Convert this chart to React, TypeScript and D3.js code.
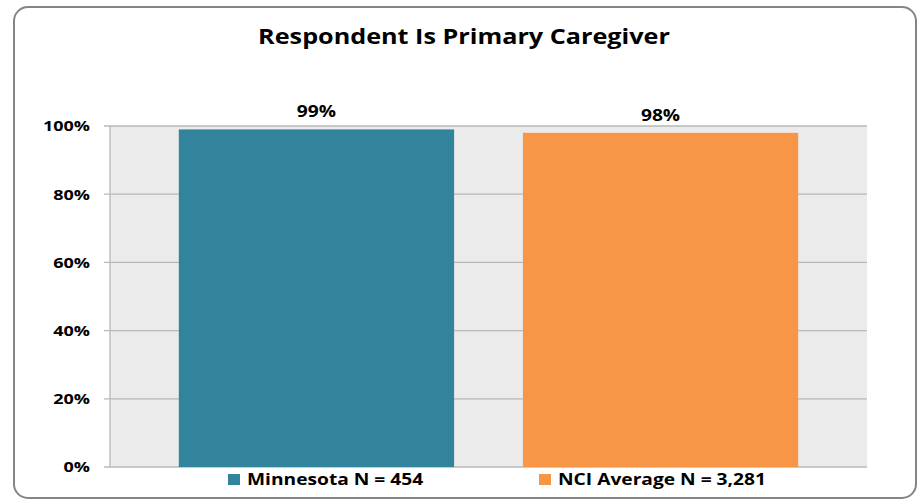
import React from "react";
import * as d3 from "d3";

const categories = ["Minnesota N = 454", "NCI Average N = 3,281"];
const values = [0.99, 0.98];
const valueLabels = ["99%", "98%"];
const colors = ["#31849B", "#F79646"];
const yTicks = [0, 0.2, 0.4, 0.6, 0.8, 1.0];
const title = "Respondent Is Primary Caregiver";

const SX = 1.2;

function Txt(props: { x: number; y: number; size: number; anchor?: string; dy?: string; children: React.ReactNode }) {
  return (
    <text
      transform={`translate(${props.x},${props.y}) scale(${SX},1)`}
      dy={props.dy}
      textAnchor={props.anchor || "start"}
      fontSize={props.size}
      fontWeight="bold"
      fill="#000"
    >
      {props.children}
    </text>
  );
}

export default function App() {
  const W = 921, H = 501;
  const left = 110, right = 867, top = 126, bottom = 467;
  const x = d3.scaleBand<string>().domain(categories).range([left, right]).paddingInner(0.2).paddingOuter(0.2);
  const y = d3.scaleLinear().domain([0, 1]).range([bottom, top]);
  const fmt = d3.format(".0%");
  const font = "'Open Sans', 'DejaVu Sans', sans-serif";
  return (
    <svg width={W} height={H} style={{ position: "absolute", left: 0, top: 0 }} fontFamily={font}>
      <rect x={0} y={0} width={W} height={H} fill="#fff" />
      <rect x={14} y={7} width={902} height={491} rx={14} ry={14} fill="#fff" stroke="#858585" strokeWidth={2} />
      <Txt x={464} y={44} size={21} anchor="middle">{title}</Txt>
      <rect x={left} y={top} width={right - left} height={bottom - top} fill="#EBEBEB" />
      {yTicks.map((t) => (
        <g key={t}>
          <line x1={left - 6} x2={right} y1={y(t)} y2={y(t)} stroke="#B8B8B8" strokeWidth={1.3} />
          <Txt x={90} y={y(t)} dy="0.36em" size={15} anchor="end">{fmt(t)}</Txt>
        </g>
      ))}
      <line x1={left} x2={left} y1={top} y2={bottom} stroke="#B8B8B8" strokeWidth={1.3} />
      {categories.map((c, i) => (
        <g key={c}>
          <rect x={x(c)} y={y(values[i])} width={x.bandwidth()} height={bottom - y(values[i])} fill={colors[i]} />
          <Txt x={(x(c) as number) + x.bandwidth() / 2} y={y(values[i]) - 12} size={16} anchor="middle">{valueLabels[i]}</Txt>
        </g>
      ))}
      {categories.map((c, i) => {
        const lx = i === 0 ? 228 : 539;
        return (
          <g key={"lg" + c}>
            <rect x={lx} y={474} width={12} height={11} fill={colors[i]} />
            <Txt x={lx + 19} y={485} size={16}>{c}</Txt>
          </g>
        );
      })}
    </svg>
  );
}
